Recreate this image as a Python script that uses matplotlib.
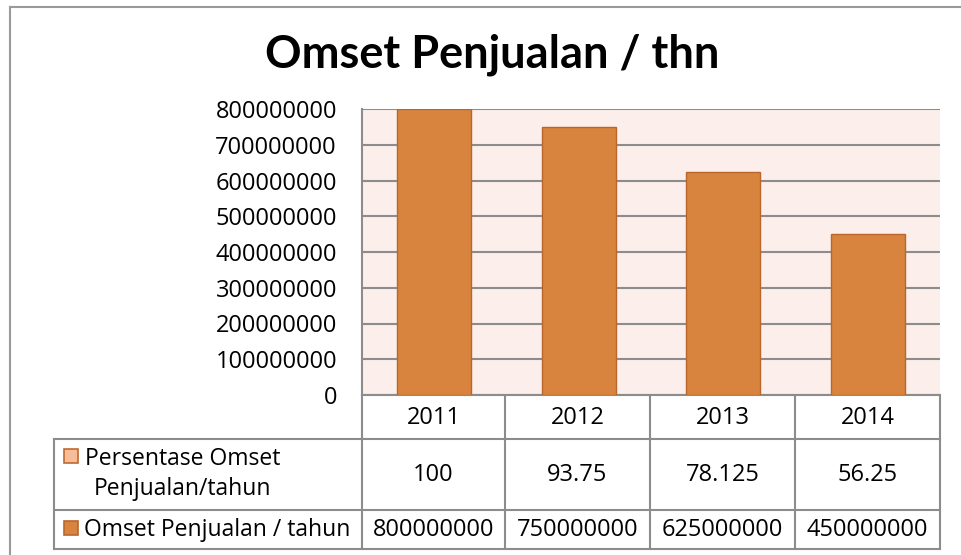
import matplotlib
matplotlib.use("Agg")
import matplotlib.pyplot as plt
from matplotlib.patches import Rectangle

# ---- data ----
years = ["2011", "2012", "2013", "2014"]
omset = [800000000, 750000000, 625000000, 450000000]
persentase = [100, 93.75, 78.125, 56.25]
persentase_labels = ["100", "93.75", "78.125", "56.25"]
omset_labels = ["800000000", "750000000", "625000000", "450000000"]
yticks = [0, 100000000, 200000000, 300000000, 400000000,
          500000000, 600000000, 700000000, 800000000]
title = "Omset Penjualan / thn"
series_names = ["Persentase Omset\nPenjualan/tahun", "Omset Penjualan / tahun"]

W, H = 961, 555
BAR = "#D8843F"
BAR_EDGE = "#B8662C"
LIGHT = "#F9BC98"
LIGHT_EDGE = "#C06A30"
GRID = "#8C8C8C"
BG = "#FCEEEA"
FONT = "Open Sans"
FS_NUM = 17
FS_LBL = 16.5

fig = plt.figure(figsize=(W / 100, H / 100), dpi=100)

# overlay axes in pixel coords
ov = fig.add_axes([0, 0, 1, 1], zorder=0)
ov.set_xlim(0, W)
ov.set_ylim(H, 0)
ov.axis("off")

# plot axes
L, R, T, B = 362, 940, 109, 395
ax = fig.add_axes([L / W, 1 - B / H, (R - L) / W, (B - T) / H], zorder=1)
ax.set_facecolor(BG)
x = list(range(len(years)))
ax.bar(x, persentase, width=0.51, color=LIGHT, edgecolor=LIGHT_EDGE, linewidth=1, zorder=3)
ax.bar(x, omset, width=0.51, color=BAR, edgecolor=BAR_EDGE, linewidth=1, zorder=3)
ax.set_xlim(-0.5, len(years) - 0.5)
ax.set_ylim(0, 800000000)
ax.set_yticks(yticks)
ax.set_yticklabels([str(v) for v in yticks], fontfamily=FONT, fontsize=FS_NUM)
ax.set_xticks([])
ax.yaxis.grid(True, color=GRID, linewidth=1.5, zorder=0)
ax.set_axisbelow(True)
ax.tick_params(axis="y", length=0, pad=18)
for s in ["top", "right"]:
    ax.spines[s].set_visible(False)
ax.spines["left"].set_color(GRID)
ax.spines["left"].set_linewidth(1.5)
ax.spines["bottom"].set_color(GRID)
ax.spines["bottom"].set_linewidth(1.5)

# title
fig.text(492 / W, 1 - 55 / H, title, ha="center", va="center",
         fontfamily="Lato", fontweight="bold", fontsize=32.5)

# outer border
ov.plot([10, 10], [7, H], color="#9A9A9A", lw=1.5)
ov.plot([10, W], [7, 7], color="#9A9A9A", lw=1.5)

# data table
colx = [362, 505, 650, 795, 940]
lc = "#8C8C8C"
for cx in colx:
    ov.plot([cx, cx], [395, 439], color=lc, lw=1.5)
for cx in [54] + colx:
    ov.plot([cx, cx], [439, 549], color=lc, lw=1.5)
for yy in [439, 510, 549]:
    ov.plot([54, 940], [yy, yy], color=lc, lw=1.5)

centers = [(colx[i] + colx[i + 1]) / 2 for i in range(len(years))]
for cxx, yr in zip(centers, years):
    ov.text(cxx, 418, yr, ha="center", va="center", fontfamily=FONT, fontsize=FS_NUM)
for cxx, v in zip(centers, persentase_labels):
    ov.text(cxx, 475, v, ha="center", va="center", fontfamily=FONT, fontsize=FS_NUM)
for cxx, v in zip(centers, omset_labels):
    ov.text(cxx, 530, v, ha="center", va="center", fontfamily=FONT, fontsize=FS_NUM)

# legend keys
ov.add_patch(Rectangle((64, 449), 14, 14, facecolor=LIGHT, edgecolor=LIGHT_EDGE, lw=1.2))
ov.add_patch(Rectangle((64, 521), 14, 14, facecolor=BAR, edgecolor=BAR_EDGE, lw=1.2))
ov.text(183, 474, series_names[0], ha="center", va="center", fontfamily=FONT,
        fontsize=FS_LBL, linespacing=1.3)
ov.text(84, 530, series_names[1], ha="left", va="center", fontfamily=FONT, fontsize=FS_LBL)

fig.savefig("out.png", dpi=100)
